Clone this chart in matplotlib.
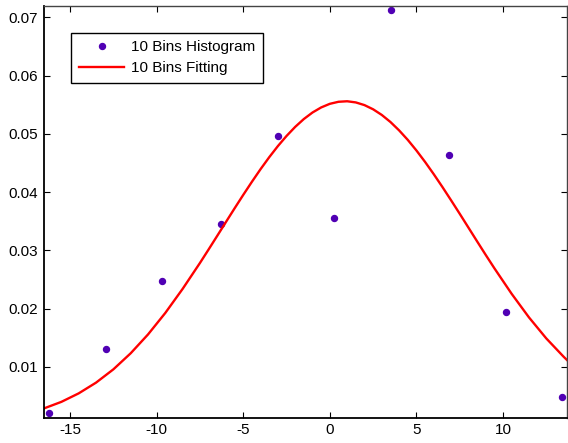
import matplotlib.pyplot as plt

# points de l'histogramme (10 classes)
hist_x = [-16.2, -12.95, -9.69, -6.29, -3.0, 0.23, 3.52, 6.87, 10.16, 13.39]
hist_y = [0.0020, 0.0130, 0.0247, 0.0345, 0.0496, 0.0355, 0.0712, 0.0464, 0.0194, 0.0048]

# courbe d'ajustement
fit_x = [-16.5, -15.5, -14.5, -13.5, -12.5, -11.5, -10.5, -9.5, -8.5, -7.5,
         -7, -6.5, -6, -5.5, -5, -4.5, -4, -3.5, -3, -2.5, -2, -1.5, -1, -0.5,
         0, 0.5, 1, 1.5, 2, 2.5, 3, 3.5, 4, 4.5, 5, 5.5, 6, 6.5, 7, 7.5, 8, 8.5, 9,
         9.5, 10.5, 11.5, 12.5, 13.5, 13.7]
fit_y = [0.00286, 0.00398, 0.00544, 0.00728, 0.00956, 0.01232, 0.01555, 0.01925,
         0.02338, 0.02783,
         0.03015, 0.03250, 0.03486, 0.03721, 0.03952, 0.04177, 0.04394, 0.04599,
         0.04790, 0.04964, 0.05120, 0.05255, 0.05367, 0.05454,
         0.05516, 0.05551, 0.05560, 0.05540, 0.05494, 0.05422, 0.05325, 0.05204,
         0.05060, 0.04897, 0.04715, 0.04518, 0.04308, 0.04088, 0.03860, 0.03628,
         0.03392, 0.03156, 0.02922,
         0.02693, 0.02253, 0.01848, 0.01487, 0.01173, 0.01115]

x_ticks = [-15, -10, -5, 0, 5, 10]
y_ticks = [0.01, 0.02, 0.03, 0.04, 0.05, 0.06, 0.07]

plt.rcParams['font.family'] = ['Liberation Sans', 'DejaVu Sans']
plt.rcParams['font.size'] = 11

fig = plt.figure(figsize=(5.68, 4.43), dpi=100)
ax = fig.add_axes([0.077, 0.057, 0.922, 0.930])

ax.plot(hist_x, hist_y, 'o', color='#5000b4', markersize=4.3, label='10 Bins Histogram')
ax.plot(fit_x, fit_y, '-', color='#ff0000', linewidth=1.7, label='10 Bins Fitting')

ax.set_xlim(-16.52, 13.72)
ax.set_ylim(0.00125, 0.0720)
ax.set_xticks(x_ticks)
ax.set_xticklabels([str(t) for t in x_ticks])
ax.set_yticks(y_ticks)
ax.set_yticklabels(['%.2f' % t for t in y_ticks])
ax.tick_params(direction='in', top=True, right=True, length=4, width=0.8, pad=4)

for s in ['left', 'bottom']:
    ax.spines[s].set_linewidth(1.3)
    ax.spines[s].set_color('black')
for s in ['top', 'right']:
    ax.spines[s].set_linewidth(1.0)
    ax.spines[s].set_color('#444444')

leg = ax.legend(loc='upper left', bbox_to_anchor=(0.052, 0.935), borderaxespad=0,
                frameon=True, fancybox=False, edgecolor='black', framealpha=1,
                handlelength=3.0, handletextpad=0.45, borderpad=0.5, labelspacing=0.45)
leg.get_frame().set_linewidth(1.0)

fig.savefig('out.png', dpi=100)
